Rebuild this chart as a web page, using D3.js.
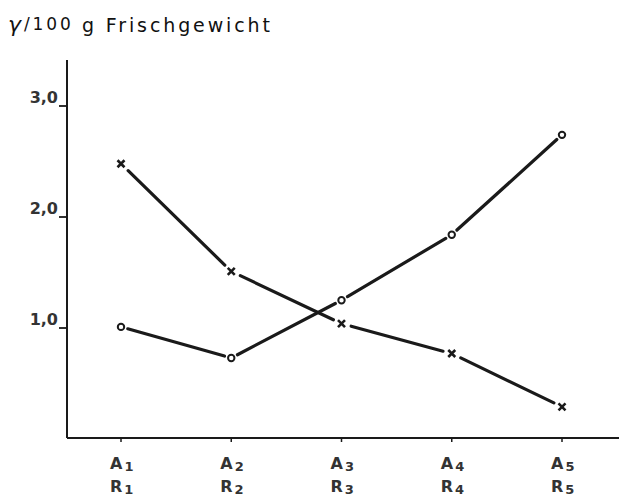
<!DOCTYPE html>
<html><head><meta charset="utf-8">
<script src="https://cdn.jsdelivr.net/npm/d3@7"></script>
<style>body{margin:0;background:#fff}svg{display:block}</style>
</head><body>
<svg id="c" width="619" height="497"></svg>
<script>
const categories = ["1", "2", "3", "4", "5"];
const crossValues = [2.48, 1.51, 1.04, 0.77, 0.29];
const circleValues = [1.01, 0.73, 1.25, 1.84, 2.74];
const yTicks = [1, 2, 3];
const yTickLabels = ["1,0", "2,0", "3,0"];

const svg = d3.select("#c");
const x = d3.scalePoint().domain(categories).range([121, 562]);
const y = d3.scaleLinear().domain([0, 3]).range([439, 106]);
const ink = "#1a1a1a";

// axes
svg.append("line").attr("x1", 67).attr("x2", 67).attr("y1", 60).attr("y2", 438)
  .attr("stroke", ink).attr("stroke-width", 2);
svg.append("line").attr("x1", 67).attr("x2", 619).attr("y1", 438).attr("y2", 438)
  .attr("stroke", ink).attr("stroke-width", 2);

// y ticks
const yg = svg.append("g");
yTicks.forEach((t, i) => {
  yg.append("line").attr("x1", 59).attr("x2", 67).attr("y1", y(t)).attr("y2", y(t))
    .attr("stroke", ink).attr("stroke-width", 1.8);
  yg.append("text").attr("x", 58).attr("y", y(t) - 3).attr("text-anchor", "end")
    .attr("font-family", "DejaVu Sans").attr("font-weight", "bold").attr("font-size", 16)
    .attr("fill", "#333").text(yTickLabels[i]);
});

// x ticks + labels
const xg = svg.append("g");
categories.forEach(c => {
  const cx = x(c);
  xg.append("line").attr("x1", cx).attr("x2", cx).attr("y1", 438).attr("y2", 442)
    .attr("stroke", ink).attr("stroke-width", 1.5);
  [["A", 469], ["R", 492]].forEach(([L, yy]) => {
    const t = xg.append("text").attr("x", cx - 11).attr("y", yy)
      .attr("font-family", "DejaVu Sans").attr("font-weight", "bold").attr("font-size", 16)
      .attr("fill", "#333");
    t.append("tspan").text(L);
    t.append("tspan").attr("font-size", 13).attr("dx", 2).attr("dy", 2).text(c);
  });
});

// title
const tt = svg.append("text").attr("x", 8).attr("y", 32)
  .attr("font-family", "DejaVu Sans").attr("font-size", 19).attr("fill", "#111")
  .attr("textLength", 262).attr("lengthAdjust", "spacing");
tt.append("tspan").attr("font-style", "italic").attr("font-size", 22).text("γ");
tt.append("tspan").attr("font-size", 17).attr("dy", -2).text("/100 ");
tt.append("tspan").attr("dy", 2).text("g Frischgewicht");

// lines with gaps near markers
function drawSeries(vals, gapA, gapB) {
  const g = svg.append("g");
  for (let i = 0; i < vals.length - 1; i++) {
    const x0 = x(categories[i]), y0 = y(vals[i]);
    const x1 = x(categories[i + 1]), y1 = y(vals[i + 1]);
    const len = Math.hypot(x1 - x0, y1 - y0);
    const ux = (x1 - x0) / len, uy = (y1 - y0) / len;
    g.append("line")
      .attr("x1", x0 + ux * gapA).attr("y1", y0 + uy * gapA)
      .attr("x2", x1 - ux * gapB).attr("y2", y1 - uy * gapB)
      .attr("stroke", ink).attr("stroke-width", 3.2).attr("stroke-linecap", "round");
  }
  return g;
}
drawSeries(crossValues, 10, 9);
drawSeries(circleValues, 7, 7);

// markers
const cross = svg.append("g");
categories.forEach((c, i) => {
  const cx = x(c), cy = y(crossValues[i]), s = 3.5;
  cross.append("path")
    .attr("d", `M${cx - s},${cy - s}L${cx + s},${cy + s}M${cx - s},${cy + s}L${cx + s},${cy - s}`)
    .attr("stroke", ink).attr("stroke-width", 2.6).attr("fill", "none");
});
svg.append("g").selectAll("circle").data(circleValues).join("circle")
  .attr("cx", (d, i) => x(categories[i])).attr("cy", d => y(d)).attr("r", 3.2)
  .attr("fill", "#fff").attr("stroke", ink).attr("stroke-width", 2);
</script>
</body></html>
